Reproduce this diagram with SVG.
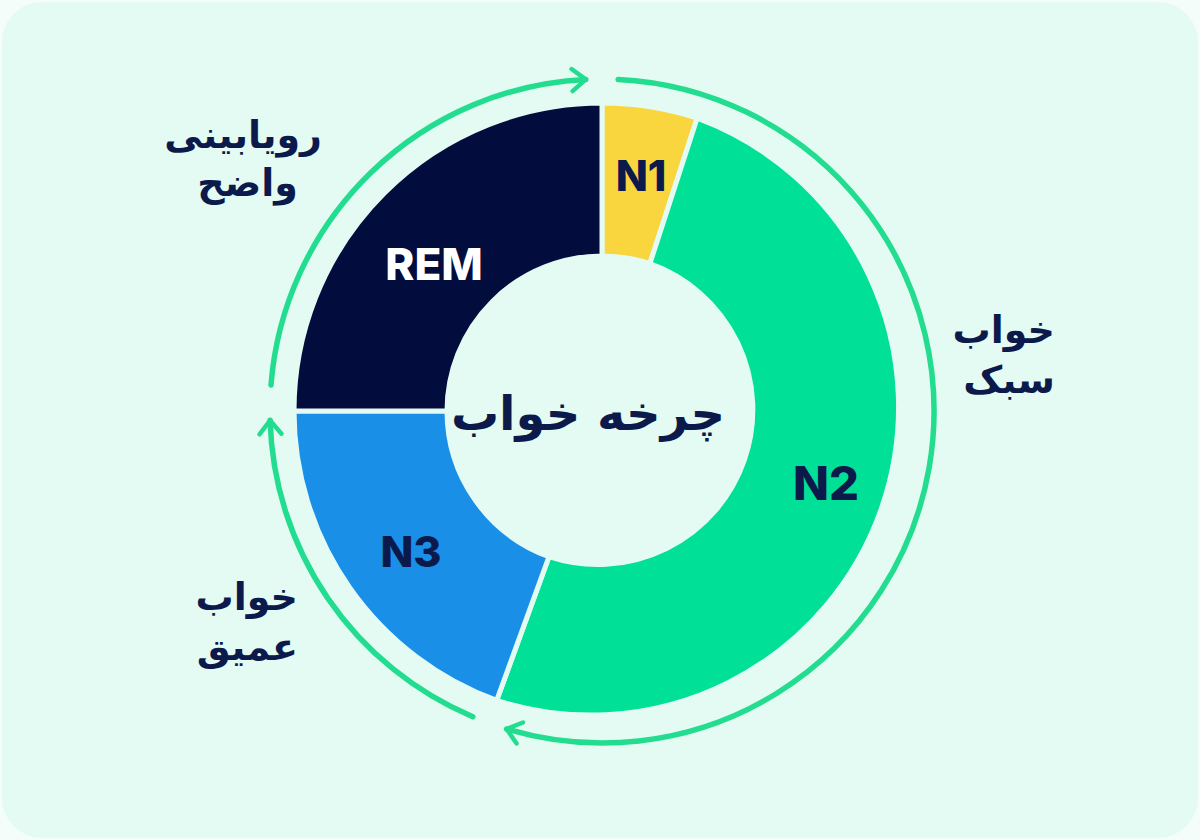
<svg xmlns="http://www.w3.org/2000/svg" width="1200" height="840" viewBox="0 0 1200 840">
<defs>
<marker id="ah" viewBox="0 0 10 10" refX="6" refY="5" markerWidth="5" markerHeight="5" orient="auto" markerUnits="strokeWidth"><path d="M1,1 L6,5 L1,9" fill="none" stroke="#22dd8f" stroke-width="1.6" stroke-linecap="round" stroke-linejoin="round"/></marker>
<style>
.seg{stroke:#e4fbf4;stroke-width:5;stroke-linejoin:round}
.ring{fill:none;stroke:#22dd8f;stroke-width:5.5;stroke-linecap:round}
.lbl{font-family:"DejaVu Sans","Noto Sans",sans-serif;font-weight:bold;fill:#0b1a4a}
.en{font-family:"Inter","Liberation Sans",sans-serif;font-weight:800}
</style>
</defs>
<rect x="0" y="0" width="1200" height="840" fill="#f4fdf9"/>
<rect x="2" y="2" width="1196" height="836" rx="40" fill="#e4fbf4"/>
<g id="N1"><path class="seg" fill="#f9d63d" d="M602,103 A308,308 0 0 1 697.2,118.1 L649.9,263.6 A155,155 0 0 0 602,256 Z"/><text class="en" x="641" y="191" font-size="42" fill="#0b1a4a" text-anchor="middle">N1</text></g>
<g id="N2"><path class="seg" fill="#00e096" d="M697.2,118.1 A308,308 0 0 1 496.7,700.4 L549,556.7 A155,155 0 0 0 649.9,263.6 Z"/><text class="en" x="826" y="500" font-size="47" fill="#0b1a4a" text-anchor="middle">N2</text></g>
<g id="N3"><path class="seg" fill="#1a8fe8" d="M496.7,700.4 A308,308 0 0 1 294,411 L447,411 A155,155 0 0 0 549,556.7 Z"/><text class="en" x="411" y="567" font-size="43" fill="#0b1a4a" text-anchor="middle">N3</text></g>
<g id="REM"><path class="seg" fill="#020c3d" d="M294,411 A308,308 0 0 1 602,103 L602,256 A155,155 0 0 0 447,411 Z"/><text class="en" x="434" y="280" font-size="44" fill="#ffffff" text-anchor="middle">REM</text></g>
<g id="center"><circle cx="602" cy="411" r="152" fill="#e4fbf4"/><text class="lbl" x="588" y="430" font-size="48" text-anchor="middle" direction="rtl">چرخه خواب</text></g>
<g id="connectors">
<path class="ring" marker-end="url(#ah)" d="M271,385 A332,332 0 0 1 585.8,79.4"/>
<path class="ring" marker-end="url(#ah)" d="M618.2,79.4 A332,332 0 1 1 506.6,729"/>
<path class="ring" marker-end="url(#ah)" d="M472.8,716.8 A332,332 0 0 1 270.1,420.3"/>
</g>
<g id="labels">
<text class="lbl" x="322" y="148" font-size="38" text-anchor="start" direction="rtl">رویابینی</text>
<text class="lbl" x="298" y="196" font-size="38" text-anchor="start" direction="rtl">واضح</text>
<text class="lbl" x="1055" y="343" font-size="38" text-anchor="start" direction="rtl">خواب</text>
<text class="lbl" x="1055" y="393" font-size="38" text-anchor="start" direction="rtl">سبک</text>
<text class="lbl" x="298" y="610" font-size="38" text-anchor="start" direction="rtl">خواب</text>
<text class="lbl" x="298" y="660" font-size="38" text-anchor="start" direction="rtl">عمیق</text>
</g>
</svg>
